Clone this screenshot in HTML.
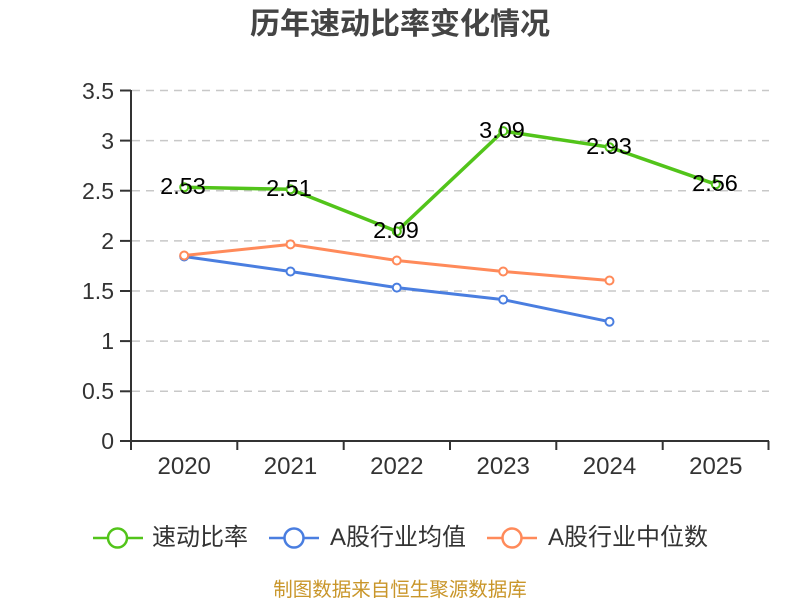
<!DOCTYPE html>
<html>
<head>
<meta charset="utf-8">
<style>
html,body{margin:0;padding:0;background:#fff;}
svg{display:block;}
</style>
</head>
<body>
<svg width="800" height="600" viewBox="0 0 800 600" xmlns="http://www.w3.org/2000/svg" font-family="'Liberation Sans','Noto Sans CJK SC',sans-serif">
  <rect width="800" height="600" fill="#fff"/>
  <!-- title -->
  <text x="400" y="34" text-anchor="middle" font-size="30" font-weight="bold" fill="#444">历年速动比率变化情况</text>

  <!-- grid lines -->
  <g stroke="#c8c8c8" stroke-width="1.5" stroke-dasharray="8,6">
    <line x1="132" y1="90.5" x2="769" y2="90.5"/>
    <line x1="132" y1="140.6" x2="769" y2="140.6"/>
    <line x1="132" y1="190.7" x2="769" y2="190.7"/>
    <line x1="132" y1="240.9" x2="769" y2="240.9"/>
    <line x1="132" y1="291" x2="769" y2="291"/>
    <line x1="132" y1="341.1" x2="769" y2="341.1"/>
    <line x1="132" y1="391.3" x2="769" y2="391.3"/>
  </g>

  <!-- axes -->
  <g stroke="#333" stroke-width="2" fill="none">
    <line x1="131" y1="90" x2="131" y2="442"/>
    <line x1="130" y1="441" x2="769" y2="441"/>
    <line x1="120" y1="90.5" x2="131" y2="90.5"/>
    <line x1="120" y1="140.6" x2="131" y2="140.6"/>
    <line x1="120" y1="190.7" x2="131" y2="190.7"/>
    <line x1="120" y1="240.9" x2="131" y2="240.9"/>
    <line x1="120" y1="291" x2="131" y2="291"/>
    <line x1="120" y1="341.1" x2="131" y2="341.1"/>
    <line x1="120" y1="391.3" x2="131" y2="391.3"/>
    <line x1="120" y1="441" x2="131" y2="441"/>
    <line x1="131" y1="441" x2="131" y2="450"/>
    <line x1="237.3" y1="441" x2="237.3" y2="450"/>
    <line x1="343.7" y1="441" x2="343.7" y2="450"/>
    <line x1="450" y1="441" x2="450" y2="450"/>
    <line x1="556.3" y1="441" x2="556.3" y2="450"/>
    <line x1="662.7" y1="441" x2="662.7" y2="450"/>
    <line x1="768.5" y1="441" x2="768.5" y2="450"/>
  </g>

  <!-- y labels -->
  <g font-size="23" fill="#333" text-anchor="end">
    <text x="114" y="99">3.5</text>
    <text x="114" y="149">3</text>
    <text x="114" y="199">2.5</text>
    <text x="114" y="249">2</text>
    <text x="114" y="299">1.5</text>
    <text x="114" y="349">1</text>
    <text x="114" y="399">0.5</text>
    <text x="114" y="449">0</text>
  </g>
  <!-- x labels -->
  <g font-size="24" fill="#333" text-anchor="middle">
    <text x="184.2" y="474">2020</text>
    <text x="290.5" y="474">2021</text>
    <text x="396.8" y="474">2022</text>
    <text x="503.2" y="474">2023</text>
    <text x="609.5" y="474">2024</text>
    <text x="715.8" y="474">2025</text>
  </g>

  <!-- series: green -->
  <polyline fill="none" stroke="#52c41a" stroke-width="3.5" stroke-linejoin="round"
    points="184.2,187.3 290.5,189.3 396.8,231.4 503.2,131.1 609.5,147.2 715.8,184.3"/>
  <!-- blue -->
  <polyline fill="none" stroke="#4a7ee0" stroke-width="3" stroke-linejoin="round"
    points="184.2,256.5 290.5,271.5 396.8,287.6 503.2,299.6 609.5,321.7"/>
  <!-- orange -->
  <polyline fill="none" stroke="#ff8a5a" stroke-width="3" stroke-linejoin="round"
    points="184.2,255.5 290.5,244.4 396.8,260.5 503.2,271.5 609.5,280.5"/>

  <g fill="#fff" stroke-width="2">
    <g stroke="#4a7ee0">
      <circle cx="184.2" cy="256.5" r="4"/>
      <circle cx="290.5" cy="271.5" r="4"/>
      <circle cx="396.8" cy="287.6" r="4"/>
      <circle cx="503.2" cy="299.6" r="4"/>
      <circle cx="609.5" cy="321.7" r="4"/>
    </g>
    <g stroke="#ff8a5a">
      <circle cx="184.2" cy="255.5" r="4"/>
      <circle cx="290.5" cy="244.4" r="4"/>
      <circle cx="396.8" cy="260.5" r="4"/>
      <circle cx="503.2" cy="271.5" r="4"/>
      <circle cx="609.5" cy="280.5" r="4"/>
    </g>
    <g stroke="#52c41a">
      <circle cx="184.2" cy="187.3" r="4"/>
      <circle cx="290.5" cy="189.3" r="4"/>
      <circle cx="396.8" cy="231.4" r="4"/>
      <circle cx="503.2" cy="131.1" r="4"/>
      <circle cx="609.5" cy="147.2" r="4"/>
      <circle cx="715.8" cy="184.3" r="4"/>
    </g>
  </g>

  <!-- data labels -->
  <g font-size="23.5" fill="#000" text-anchor="middle">
    <text x="183" y="194">2.53</text>
    <text x="289" y="196">2.51</text>
    <text x="396" y="238">2.09</text>
    <text x="502" y="138">3.09</text>
    <text x="609" y="154">2.93</text>
    <text x="715" y="191">2.56</text>
  </g>

  <!-- legend -->
  <g stroke-width="2.5" fill="#fff">
    <line x1="93" y1="538" x2="143" y2="538" stroke="#52c41a"/>
    <circle cx="117.5" cy="538" r="9.5" stroke="#52c41a"/>
    <line x1="269" y1="538" x2="319" y2="538" stroke="#4a7ee0"/>
    <circle cx="294" cy="538" r="9.5" stroke="#4a7ee0"/>
    <line x1="487" y1="538" x2="537" y2="538" stroke="#ff8a5a"/>
    <circle cx="512" cy="538" r="9.5" stroke="#ff8a5a"/>
  </g>
  <g font-size="24" fill="#333">
    <text x="152" y="545">速动比率</text>
    <text x="330" y="545">A股行业均值</text>
    <text x="548" y="545">A股行业中位数</text>
  </g>

  <!-- footer -->
  <text x="400" y="596" text-anchor="middle" font-size="19.5" fill="#c9962a">制图数据来自恒生聚源数据库</text>
</svg>
</body>
</html>
